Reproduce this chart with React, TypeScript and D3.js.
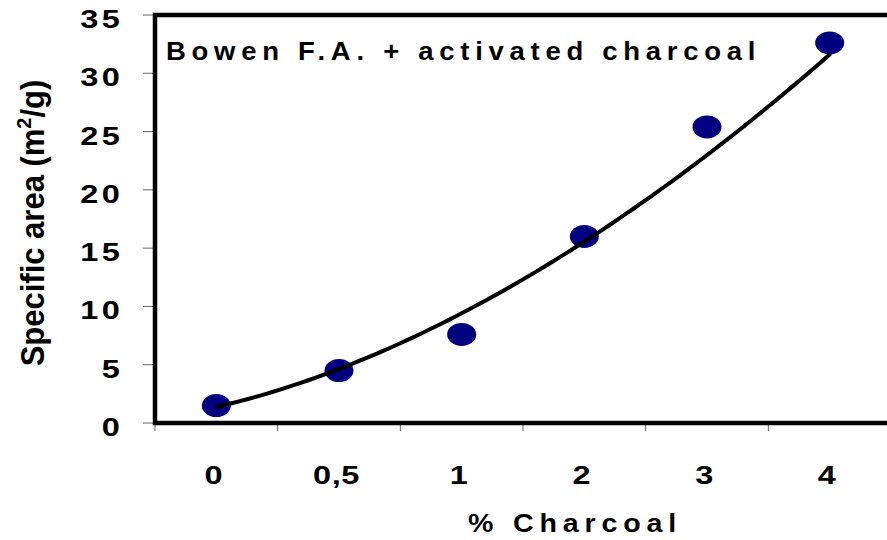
import { line as d3Line, range, scaleBand, scaleLinear, curveLinear } from "d3";

const categories = ["0", "0,5", "1", "2", "3", "4"];
const specificArea = [1.5, 4.5, 7.6, 16.0, 25.4, 32.6];
const yTicks = [0, 5, 10, 15, 20, 25, 30, 35];

const width = 887;
const height = 540;
const margin = { top: 15, left: 155, bottom: 423, right: 891 };

// Excel-style power trendline: y = a * x^b, fitted on ln/ln with x = 1..n
function powerFit(ys: number[]) {
  const lx = ys.map((_, i) => Math.log(i + 1));
  const ly = ys.map((v) => Math.log(v));
  const mx = lx.reduce((a, b) => a + b, 0) / lx.length;
  const my = ly.reduce((a, b) => a + b, 0) / ly.length;
  let sxy = 0;
  let sxx = 0;
  lx.forEach((v, i) => {
    sxy += (v - mx) * (ly[i] - my);
    sxx += (v - mx) * (v - mx);
  });
  const b = sxy / sxx;
  const a = Math.exp(my - b * mx);
  return (t: number) => a * Math.pow(t + 1, b);
}

export default function App() {
  const x = scaleBand<string>()
    .domain(categories)
    .range([margin.left, margin.right])
    .padding(0);
  const y = scaleLinear().domain([0, 35]).range([margin.bottom, margin.top]);
  const cx = (i: number) => x(categories[0])! + x.bandwidth() * (i + 0.5);

  const fit = powerFit(specificArea);
  const samples = range(0, 5.0001, 0.05);
  const trend = d3Line<number>()
    .x((t) => cx(t))
    .y((t) => y(fit(t)))
    .curve(curveLinear)(samples);

  const font = "'Liberation Sans', Arial, sans-serif";
  const tickScale = 1.3;

  return (
    <svg
      width={width}
      height={height}
      style={{ position: "fixed", left: 0, top: 0, background: "#fff" }}
      fontFamily={font}
      fontWeight="bold"
    >
      {/* y ticks */}
      {yTicks.map((t) => (
        <g key={t}>
          <line x1={143} x2={margin.left} y1={y(t)} y2={y(t)} stroke="#666" strokeWidth={1} />
          <text
            transform={`translate(123, ${y(t) + 13}) scale(${tickScale}, 1)`}
            textAnchor="end"
            fontSize={25}
            letterSpacing={2.5}
          >
            {t}
          </text>
        </g>
      ))}

      {/* x ticks */}
      {range(categories.length + 1).map((i) => (
        <line
          key={i}
          x1={margin.left + x.bandwidth() * i}
          x2={margin.left + x.bandwidth() * i}
          y1={margin.bottom}
          y2={431}
          stroke="#666"
          strokeWidth={1}
        />
      ))}
      {categories.map((c) => (
        <text
          key={c}
          transform={`translate(${x(c)! + x.bandwidth() / 2 - 2.5}, 484) scale(${tickScale}, 1)`}
          textAnchor="middle"
          fontSize={25}
          letterSpacing={0.5}
        >
          {c}
        </text>
      ))}

      {/* plot frame */}
      <rect
        x={margin.left}
        y={margin.top}
        width={margin.right - margin.left + 20}
        height={margin.bottom - margin.top}
        fill="none"
        stroke="#000"
        strokeWidth={4.5}
      />

      {/* points */}
      {specificArea.map((v, i) => (
        <ellipse key={i} cx={cx(i)} cy={y(v)} rx={14.5} ry={11.5} fill="#000080" />
      ))}

      {/* trendline */}
      <path d={trend ?? ""} fill="none" stroke="#000" strokeWidth={4} strokeLinecap="round" />

      {/* chart title */}
      <text transform="translate(166, 60) scale(1.1, 1)" fontSize={25} letterSpacing={5.2}>
        Bowen F.A. + activated charcoal
      </text>

      {/* axis titles */}
      <text
        transform="translate(468, 532) scale(1.1, 1)"
        fontSize={26}
        letterSpacing={5.3}
      >
        % Charcoal
      </text>
      <text
        transform={`translate(43.5, 223) scale(1.05, 1) rotate(-90)`}
        textAnchor="middle"
        fontSize={31}
      >
        Specific area (m<tspan dy={-12} fontSize={20}>2</tspan>
        <tspan dy={12}>/g)</tspan>
      </text>
    </svg>
  );
}
